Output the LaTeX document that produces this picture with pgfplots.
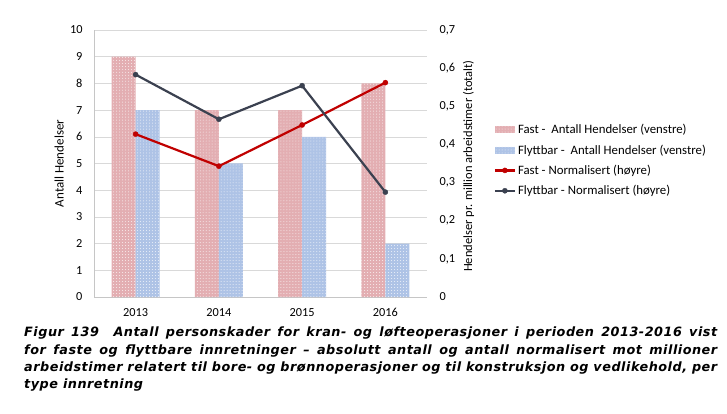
\documentclass[border=0pt]{standalone}
\usepackage{fontspec}
\setmainfont{Carlito}
\newfontfamily\capfont[LetterSpace=4]{DejaVu Sans}
\usepackage{pgfplots}
\pgfplotsset{compat=1.18}
\usetikzlibrary{patterns}

\definecolor{fastbar}{HTML}{E3AEB2}
\definecolor{flytbar}{HTML}{AEC3E6}
\definecolor{fastline}{HTML}{C00000}
\definecolor{flytline}{HTML}{3B4150}

\pgfplotsset{
  barleg/.style={legend image code/.code={\fill[##1] (0bp,-3.5bp) rectangle (20bp,3.5bp);}},
  lineleg/.style={legend image code/.code={\draw[##1, mark repeat=2, mark phase=2] plot coordinates {(0bp,0bp) (10bp,0bp) (20bp,0bp)};}},
}

\begin{document}
\begin{tikzpicture}[x=1bp,y=1bp]
\path[use as bounding box] (0,0) rectangle (727,413);

% left axis: antall hendelser (bars)
\begin{axis}[
  at={(94bp,116bp)}, anchor=south west,
  scale only axis, width=333bp, height=267bp,
  xmin=-0.5, xmax=3.5, ymin=0, ymax=10,
  xtick={0,1,2,3}, xticklabels={2013,2014,2015,2016},
  ytick={0,1,...,10},
  ymajorgrids, grid style={gray!30},
  axis y line*=left, axis x line*=bottom,
  axis line style={gray!45},
  major tick length=0pt,
  /pgf/number format/assume math mode=true,
  ticklabel style={font=\fontsize{12.3bp}{14bp}\selectfont},
  yticklabel style={xshift=-8bp},
  xticklabel style={yshift=-8bp},
  ylabel={Antall Hendelser},
  ylabel style={at={(axis description cs:-0.105,0.5)}, anchor=center,
    font=\fontsize{13bp}{14bp}\selectfont},
  ybar=0pt, bar width=24bp,
]
\addplot[draw=none, fill=fastbar, postaction={pattern=dots, pattern color=white!80!fastbar}]
  coordinates {(0,9) (1,7) (2,7) (3,8)};
\addplot[draw=none, fill=flytbar, postaction={pattern=dots, pattern color=white!80!flytbar}]
  coordinates {(0,7) (1,5) (2,6) (3,2)};
\end{axis}

% right axis: normalisert (lines)
\begin{axis}[
  at={(94bp,116bp)}, anchor=south west,
  scale only axis, width=333bp, height=267bp,
  xmin=-0.5, xmax=3.5, ymin=0, ymax=0.7,
  ytick={0,0.1,...,0.7},
  axis y line*=right, axis x line=none,
  axis line style={draw=none},
  major tick length=0pt,
  /pgf/number format/assume math mode=true,
  /pgf/number format/.cd, use comma, fixed, precision=1, /pgfplots/.cd,
  ticklabel style={font=\fontsize{12.3bp}{14bp}\selectfont},
  yticklabel style={xshift=9bp},
  ylabel={Hendelser pr. million arbeidstimer (totalt)},
  ylabel style={at={(axis description cs:1.125,0.49)}, anchor=center, rotate=0,
    font=\fontsize{12.5bp}{14bp}\selectfont},
  legend style={at={(axis description cs:1.2,0.655)}, anchor=north west,
    draw=none, fill=none, font=\fontsize{12.8bp}{14bp}\selectfont,
    row sep=5.5bp, inner sep=0pt},
  legend cell align=left,
]
\addlegendimage{barleg, draw=none, fill=fastbar, postaction={pattern=dots, pattern color=white!80!fastbar}}
\addlegendentry{Fast -\ \ Antall Hendelser (venstre)}
\addlegendimage{barleg, draw=none, fill=flytbar, postaction={pattern=dots, pattern color=white!80!flytbar}}
\addlegendentry{Flyttbar -\ \ Antall Hendelser (venstre)}
\addplot[lineleg, color=fastline, line width=2.2bp, mark=*, mark size=2.6bp, mark options={line width=0.3bp}]
  coordinates {(0,0.427) (1,0.343) (2,0.451) (3,0.562)};
\addlegendentry{Fast - Normalisert (høyre)}
\addplot[lineleg, color=flytline, line width=2.2bp, mark=*, mark size=2.6bp, mark options={line width=0.3bp}]
  coordinates {(0,0.583) (1,0.466) (2,0.554) (3,0.275)};
\addlegendentry{Flyttbar - Normalisert (høyre)}
\end{axis}

\node[anchor=north west, inner sep=0pt, text width=693bp, align=justify,
  font=\capfont\bfseries\itshape\fontsize{12.8bp}{17.3bp}\selectfont]
  at (24bp,86bp)
  {Figur 139\ \ Antall personskader for kran- og løfteoperasjoner i perioden 2013-2016 vist\linebreak for faste og flyttbare innretninger – absolutt antall og antall normalisert mot millioner\linebreak arbeidstimer relatert til bore- og brønnoperasjoner og til konstruksjon og vedlikehold, per\linebreak type innretning};
\end{tikzpicture}
\end{document}
